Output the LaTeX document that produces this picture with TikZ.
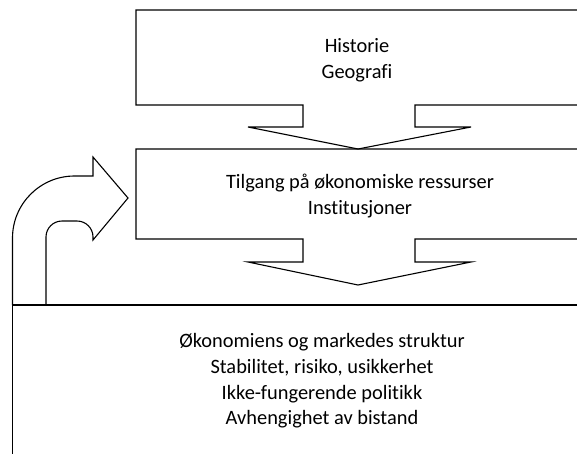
\documentclass[tikz,border=0pt]{standalone}
\usepackage{fontspec}
\setmainfont[Ligatures=NoCommon]{Carlito}
\usetikzlibrary{positioning}

\begin{document}
\begin{tikzpicture}[x=1pt,y=-1pt,line width=1.1pt,
  txt/.style={align=center,inner sep=0pt,font=\fontsize{20.4}{25.6}\selectfont}]

\useasboundingbox (0,0) rectangle (577,453);
\clip (0,0) rectangle (577,453);

% callout boxes, open to the right
\draw (590,10) -- (136,10) -- (136,105) -- (303,105) -- (303,127) -- (248,127)
  -- (358,149) -- (471,127) -- (415,127) -- (415,105) -- (590,105);
\draw (590,149) -- (136,149) -- (136,239) -- (303,239) -- (303,262) -- (248,262)
  -- (358,285) -- (471,262) -- (415,262) -- (415,239) -- (590,239);
\draw (590,305) -- (12.5,305) -- (12.5,460);

% bent arrow
\draw (46,305) {[rounded corners=16pt] -- (46,221) -- (93,221)} -- (93,240) -- (128,198)
  -- (93,157) -- (93,176) {[rounded corners=62pt] -- (12.5,176) -- (12.5,305)};

\node[txt] (hist)  at (357,60)  {Historie\\Geografi};
\node[txt] (tilg)  at (360,196) {Tilgang på økonomiske ressurser\\Institusjoner};
\node[txt] (okon)  at (322,381) {Økonomiens og markedes struktur\\Stabilitet, risiko, usikkerhet\\Ikke-fungerende politikk\\Avhengighet av bistand};

\end{tikzpicture}
\end{document}
